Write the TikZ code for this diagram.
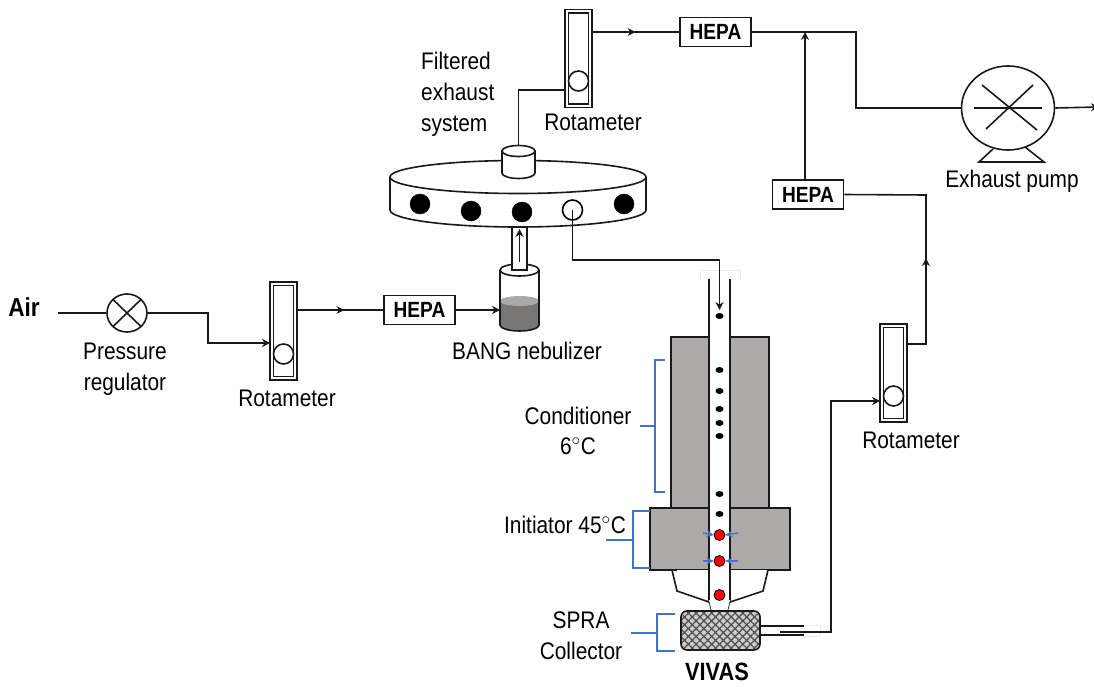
\documentclass[tikz,border=0pt]{standalone}
\usepackage{fontspec}
\setmainfont[FakeStretch=0.87]{Liberation Sans}
\usetikzlibrary{arrows.meta,decorations.markings,patterns.meta,shapes.geometric}
\definecolor{steelgray}{HTML}{ADA9A8}
\definecolor{bluebr}{HTML}{4472C4}
\definecolor{liquid}{HTML}{7A7676}
\definecolor{liquidtop}{HTML}{ABA8A8}
\tikzset{
  line/.style={draw=black!90,line width=1.6pt},
  flowtip/.style={-{Stealth[length=8pt,width=8pt]}},
  midarrow/.style={postaction={decorate},decoration={markings,mark=at position #1 with {\arrow{Stealth[length=8pt,width=8pt]}}}},
  hepabox/.style={line,fill=white,minimum width=71pt,minimum height=29pt,inner sep=0pt,font=\fontsize{22}{24}\selectfont\bfseries},
  rotaouter/.style={line,fill=white,minimum width=27pt,minimum height=98pt,inner sep=0pt},
  rotainner/.style={line,fill=white,minimum width=20pt,minimum height=91pt,inner sep=0pt},
  ball/.style={circle,line,fill=white,minimum size=20pt,inner sep=0pt},
  hole/.style={circle,draw=black,fill=black,minimum size=20pt,inner sep=0pt},
  label/.style={font=\fontsize{24}{26}\selectfont,inner sep=0pt,align=center},
  blockgray/.style={line,fill=steelgray,inner sep=0pt},
  dropblack/.style={ellipse,fill=black,minimum width=8pt,minimum height=6pt,inner sep=0pt},
  dropred/.style={circle,draw=black,line width=.8pt,fill=red,minimum size=11pt,inner sep=0pt},
  bracket/.style={draw=bluebr,line width=2pt},
  bluetip/.style={draw=bluebr,line width=1.4pt,-{Stealth[length=7pt,width=7pt]}},
  faint/.style={draw=black!8,line width=.8pt},
}
\newcommand{\rotameterat}[4]{% name, cx, cy, ball y
  \node[rotaouter] (#1) at (#2,#3) {};
  \node[rotainner] (#1in) at (#2,#3) {};
  \node[ball] (#1ball) at (#2,#4) {};
}
\begin{document}
\begin{tikzpicture}[x=1pt,y=-1pt]
\useasboundingbox (0,0) rectangle (1094,687);
% Air line and regulator
\node[font=\fontsize{26}{28}\selectfont\bfseries,inner sep=0pt] (air) at (24,307) {Air};
\coordinate (airstart) at (58,313);
\node[ellipse,line,fill=white,minimum width=40pt,minimum height=38pt,inner sep=0pt] (reg) at (127,313) {};
\draw[line] (113,299.5) -- (141,326.5);
\draw[line] (141,299.5) -- (113,326.5);
\draw[line] (airstart) -- (reg.west);
\rotameterat{rotA}{283.5}{331}{354}
\coordinate (rotAin) at (270,343);
\coordinate (rotAout) at (297,310);
\draw[line,flowtip] (reg.east) -- (208,313) -- (208,343) -- (rotAin);
\node[label] (reglabel) at (125,369) {Pressure\\[5pt]regulator};
\node[label] (rotAlabel) at (287,398) {Rotameter};
% HEPA 1 and nebulizer
\node[hepabox] (hepaA) at (419.5,310) {HEPA};
\draw[line,midarrow=0.55] (rotAout) -- (hepaA.west);
% nebulizer
\fill[liquid] (500,301) -- (500,325) arc[start angle=180,end angle=0,x radius=19.5,y radius=6] -- (539,301) -- cycle;
\fill[liquidtop] (519.5,301) ellipse[x radius=19.5,y radius=5];
\draw[line] (500,270) -- (500,325) arc[start angle=180,end angle=0,x radius=19.5,y radius=6] -- (539,270);
\draw[line] (519.5,270) ellipse[x radius=19.5,y radius=6];
\coordinate (nebin) at (500,310);
\draw[line,flowtip] (hepaA.east) -- (nebin);
\node[label] (neblabel) at (527,351) {BANG nebulizer};
\node[line,fill=white,minimum width=15pt,minimum height=44pt,inner sep=0pt] (nebtube) at (519.5,248) {};
\coordinate (nebtubeA) at (519.5,262);
\coordinate (nebtubeB) at (519.5,229);
\draw[line,flowtip] (nebtubeA) -- (nebtubeB);
% disc
\draw[line,fill=white] (390,178) -- (390,210) arc[start angle=180,end angle=0,x radius=128,y radius=17] -- (646,178) -- cycle;
\draw[line,fill=white] (518,177) ellipse[x radius=128,y radius=16.5];
\node[hole] (h1) at (420,204) {};
\node[hole] (h2) at (471,211) {};
\node[hole] (h3) at (522,212) {};
\node[hole,fill=white,line width=1.6pt] (h4) at (572.5,210) {};
\node[hole] (h5) at (624,204) {};
% exhaust cap
\draw[line,fill=white] (502,151) -- (502,173) arc[start angle=180,end angle=0,x radius=16.5,y radius=5.5] -- (535,151) -- cycle;
\draw[line,fill=white] (518.5,151) ellipse[x radius=16.5,y radius=5.5];
\coordinate (captop) at (518.5,145.5);
\rotameterat{rotB}{578.5}{58.5}{81}
\coordinate (rotBin) at (565,90);
\coordinate (rotBout) at (592,32);
\draw[line] (captop) |- (rotBin);
\node[label,align=left,anchor=west] (filt) at (421,94) {Filtered\\[5pt]exhaust\\[5pt]system};
\node[label] (rotBlabel) at (593,122) {Rotameter};
% HEPA top
\node[hepabox] (hepaB) at (715.5,32) {HEPA};
\draw[line,midarrow=0.5] (rotBout) -- (hepaB.west);
% Pump
\draw[line,fill=white] (993,149) -- (979,162) -- (1044,162) -- (1025,147);
\node[ellipse,line,fill=white,minimum width=93pt,minimum height=84pt,inner sep=0pt] (pump) at (1008,108) {};
\draw[line] (982,85) -- (1037,130);
\draw[line] (1033,85) -- (986,129);
\draw[line] (974,108) -- (1042,108);
\coordinate (pumpin) at (962,108);
\coordinate (pumpout) at (1099,107);
\draw[line,flowtip] (pump.east) -- (pumpout);
\draw[line] (hepaB.east) -- (856,32) -- (856,108) -- (pump.west);
\node[label] (pumplabel) at (1012,181) {Exhaust pump};
% HEPA mid
\node[hepabox] (hepaC) at (808,194.5) {HEPA};
\coordinate (hepaCtop) at (805,180);
\coordinate (joinB) at (805,32);
\draw[line,flowtip] (hepaCtop) -- (joinB);
% Rotameter 3
\rotameterat{rotC}{893.5}{373}{396}
\coordinate (rotCout) at (907,344);
\coordinate (rotCin) at (880,401);
\draw[line,midarrow=0.42] (rotCout) -- (926,344) -- (926,195) -- (hepaC.east);
\node[label] (rotClabel) at (911,440) {Rotameter};
% VIVAS body
\node[blockgray,minimum width=98pt,minimum height=171pt] (cond) at (720,422.5) {};
\node[blockgray,minimum width=140pt,minimum height=62pt] (init) at (720,539) {};
\fill[white] (709,570) -- (677,570) -- (677,591) -- (710,602) -- (730,602) -- (763,591) -- (768,570) -- cycle;
\draw[line] (672,570) -- (677,591) -- (709,602);
\draw[line] (768,570) -- (763,591) -- (730,602);
\fill[white] (709,279) rectangle (730,600);
\draw[line] (709,279) -- (709,600) -- (712,612);
\draw[line] (730,279) -- (730,600) -- (727,612);
\fill[white] (709,600) -- (712,612) -- (727,612) -- (730,600) -- cycle;
\draw[faint] (700,279) -- (700,270) -- (740,270) -- (740,279);
\coordinate (tubetop) at (719.5,310);
\draw[line,flowtip] (h4.center) -- (572.5,260) -- (719.5,260) -- (tubetop);
\foreach \n/\yy in {a/316,b/370,c/391,d/409,e/423,f/436,g/494,h/514} {
  \node[dropblack] (drop\n) at (719.5,\yy) {};
}
\coordinate (bl1) at (703,533); \coordinate (br1) at (738,533);
\coordinate (bl2) at (703,561); \coordinate (br2) at (738,561);
\node[dropred] (redA) at (719.5,535) {};
\node[dropred] (redB) at (719.5,561) {};
\node[dropred] (redC) at (719.5,595) {};
\draw[bluetip] (bl1) -- (redA.west);
\draw[bluetip] (br1) -- (redA.east);
\draw[bluetip] (bl2) -- (redB.west);
\draw[bluetip] (br2) -- (redB.east);
% collector
\node[line,rounded corners=6pt,fill=black!20,minimum width=79pt,minimum height=39pt,inner sep=0pt] (coll) at (720.5,630.5) {};
\fill[pattern={Lines[angle=45,distance=5.5pt,line width=1.2pt]},pattern color=black!70,rounded corners=6pt] (682,612) rectangle (759,649);
\fill[pattern={Lines[angle=-45,distance=5.5pt,line width=1.2pt]},pattern color=black!70,rounded corners=6pt] (682,612) rectangle (759,649);
\coordinate (collA) at (760,626); \coordinate (collAe) at (804,626);
\coordinate (collB) at (760,635); \coordinate (collBe) at (804,635);
\coordinate (collC) at (780,632);
\draw[line] (collA) -- (collAe);
\draw[line] (collB) -- (collBe);
\draw[faint] (804,625) -- (820,625) -- (820,636) -- (804,636);
\draw[line,flowtip] (collC) -- (831,632) -- (831,401) -- (rotCin);
% brackets
\draw[bracket] (665,360) -- (655,360) -- (655,492) -- (665,492);
\draw[bracket] (640,426) -- (655,426);
\draw[bracket] (650,511) -- (633,511) -- (633,568) -- (650,568);
\draw[bracket] (606,540) -- (633,540);
\draw[bracket] (675,614) -- (657,614) -- (657,651) -- (675,651);
\draw[bracket] (631,633) -- (657,633);
% labels
\node[label] (condlabel) at (578,431) {Conditioner\\[4pt]6$^{\circ}$C};
\node[label] (initlabel) at (565,525) {Initiator 45$^{\circ}$C};
\node[label] (colllabel) at (581,636) {SPRA\\[5pt]Collector};
\node[font=\fontsize{25}{27}\selectfont\bfseries,inner sep=0pt] (vivas) at (717,672) {VIVAS};
\end{tikzpicture}
\end{document}
